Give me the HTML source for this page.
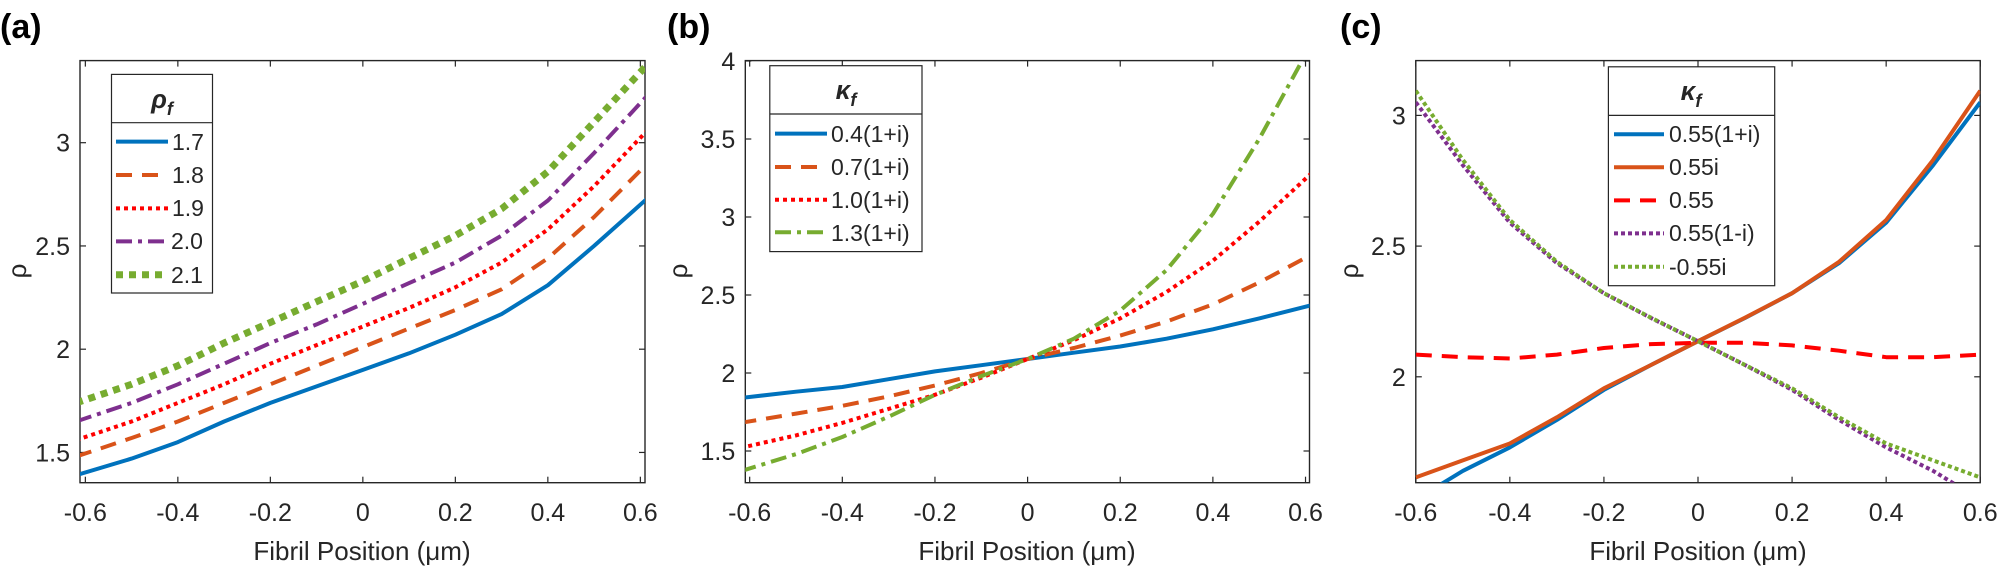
<!DOCTYPE html>
<html><head><meta charset="utf-8"><style>
html,body{margin:0;padding:0;background:#fff;width:2001px;height:569px;overflow:hidden}
svg{display:block}
text{font-family:"Liberation Sans",Arial,sans-serif;fill:#262626}
</style></head><body>
<svg id="s" width="2001" height="569" xmlns="http://www.w3.org/2000/svg">
<defs>
<clipPath id="ca"><rect x="80" y="60.6" width="565" height="422"/></clipPath>
<clipPath id="cb"><rect x="745.3" y="60.6" width="564.2" height="422"/></clipPath>
<clipPath id="cc"><rect x="1415.8" y="60.6" width="564.4" height="422"/></clipPath>
</defs>
<text x="0" y="38" font-size="34" font-weight="bold" style="fill:#000">(a)</text>
<text x="667" y="38" font-size="34" font-weight="bold" style="fill:#000">(b)</text>
<text x="1340" y="38" font-size="34" font-weight="bold" style="fill:#000">(c)</text>
<g id="axes"></g>
<text x="362" y="560" font-size="26" text-anchor="middle">Fibril Position (μm)</text>
<text x="1027" y="560" font-size="26" text-anchor="middle">Fibril Position (μm)</text>
<text x="1698" y="560" font-size="26" text-anchor="middle">Fibril Position (μm)</text>
<text transform="translate(26,271) rotate(-90)" font-size="26" text-anchor="middle">ρ</text>
<text transform="translate(687,271) rotate(-90)" font-size="26" text-anchor="middle">ρ</text>
<text transform="translate(1358,271) rotate(-90)" font-size="26" text-anchor="middle">ρ</text>
<g stroke="#262626" stroke-width="1.2" fill="#fff">
<rect x="111.5" y="74.4" width="101" height="218.6"/><line x1="111.5" y1="122.7" x2="212.5" y2="122.7"/>
<rect x="769.8" y="65.7" width="152.2" height="185.9"/><line x1="769.8" y1="114" x2="922" y2="114"/>
<rect x="1608.4" y="66.8" width="166.3" height="218.9"/><line x1="1608.4" y1="115.4" x2="1774.7" y2="115.4"/>
</g>
<text x="162" y="108" font-size="26" font-weight="bold" font-style="italic" text-anchor="middle">ρ<tspan font-size="18" dy="7">f</tspan></text>
<text x="846" y="99" font-size="26" font-weight="bold" font-style="italic" text-anchor="middle">κ<tspan font-size="18" dy="7">f</tspan></text>
<text x="1691" y="100" font-size="26" font-weight="bold" font-style="italic" text-anchor="middle">κ<tspan font-size="18" dy="7">f</tspan></text>
<g font-size="23">
<text x="172" y="150">1.7</text><text x="172" y="183">1.8</text><text x="172" y="216">1.9</text><text x="171" y="249">2.0</text><text x="171" y="283">2.1</text>
<text x="831" y="142">0.4(1+i)</text><text x="831" y="175">0.7(1+i)</text><text x="831" y="208">1.0(1+i)</text><text x="831" y="241">1.3(1+i)</text>
<text x="1669" y="142">0.55(1+i)</text><text x="1669" y="175">0.55i</text><text x="1669" y="208">0.55</text><text x="1669" y="241">0.55(1-i)</text><text x="1669" y="275">-0.55i</text>
</g>
<g id="series"></g>
</svg>
<script>
var NS="http://www.w3.org/2000/svg";
function el(p,t,a){var e=document.createElementNS(NS,t);for(var k in a)e.setAttribute(k,a[k]);p.appendChild(e);return e;}
var ax=document.getElementById('axes'),se=document.getElementById('series');
var P={
a:{L:80,R:645,T:60.6,B:482.7,xc:362.85,xs:462.5,yf:function(v){return 142.7+(3-v)*206.5},yt:[1.5,2,2.5,3],yl:['1.5','2','2.5','3'],clip:'ca'},
b:{L:745.3,R:1309.5,T:60.6,B:482.7,xc:1027.6,xs:463.2,yf:function(v){return 61+(4-v)*156},yt:[1.5,2,2.5,3,3.5,4],yl:['1.5','2','2.5','3','3.5','4'],clip:'cb'},
c:{L:1415.8,R:1980.2,T:60.6,B:482.7,xc:1698,xs:470.4,yf:function(v){return 115.4+(3-v)*261.4},yt:[2,2.5,3],yl:['2','2.5','3'],clip:'cc'}
};
var xt=[-0.6,-0.4,-0.2,0,0.2,0.4,0.6],xl=['-0.6','-0.4','-0.2','0','0.2','0.4','0.6'];
for(var k in P){var p=P[k];
 xt.forEach(function(v,i){var x=p.xc+v*p.xs;
  el(ax,'line',{x1:x,y1:p.B,x2:x,y2:p.B-6,stroke:'#262626','stroke-width':1.2});
  el(ax,'line',{x1:x,y1:p.T,x2:x,y2:p.T+6,stroke:'#262626','stroke-width':1.2});
  var t=el(ax,'text',{x:x,y:521,'font-size':25,'text-anchor':'middle'});t.textContent=xl[i];});
 p.yt.forEach(function(v,i){var y=p.yf(v);
  el(ax,'line',{x1:p.L,y1:y,x2:p.L+6,y2:y,stroke:'#262626','stroke-width':1.2});
  el(ax,'line',{x1:p.R,y1:y,x2:p.R-6,y2:y,stroke:'#262626','stroke-width':1.2});
  var t=el(ax,'text',{x:p.L-10,y:y+9,'font-size':25,'text-anchor':'end'});t.textContent=p.yl[i];});
 el(ax,'rect',{x:p.L,y:p.T,width:p.R-p.L,height:p.B-p.T,fill:'none',stroke:'#262626','stroke-width':1.4});
}
var BL='#0072BD',OR='#D95319',RD='#FF0000',PU='#7E2F8E',GR='#77AC30';
var ST={solid:{w:4,d:''},dash:{w:4,d:'16 10'},dot:{w:4,d:'4 4'},dashdot:{w:4,d:'16 6 4 6'},gdot:{w:7,d:'7 6'},cdot:{w:4,d:'4 3'}};
function draw(k,xs,ys,col,st){var p=P[k];var pts=xs.map(function(x,i){return (p.xc+x*p.xs).toFixed(1)+','+p.yf(ys[i]).toFixed(1)}).join(' ');
 var g=el(se,'g',{'clip-path':'url(#'+p.clip+')'});
 var a={points:pts,fill:'none',stroke:col,'stroke-width':ST[st].w,'stroke-linejoin':'round'};if(ST[st].d)a['stroke-dasharray']=ST[st].d;el(g,'polyline',a);}
function leg(x1,x2,y,col,st){var a={x1:x1,x2:x2,y1:y,y2:y,stroke:col,'stroke-width':ST[st].w};if(ST[st].d)a['stroke-dasharray']=ST[st].d;el(se,'line',a);}
var X=[-0.62,-0.5,-0.4,-0.3,-0.2,-0.1,0,0.1,0.2,0.3,0.4,0.5,0.62];
draw('a',X,[1.39,1.47,1.55,1.65,1.74,1.82,1.90,1.98,2.07,2.17,2.31,2.50,2.74],BL,'solid');
draw('a',X,[1.48,1.57,1.65,1.74,1.83,1.92,2.01,2.10,2.19,2.29,2.44,2.64,2.91],OR,'dash');
draw('a',X,[1.56,1.65,1.74,1.83,1.93,2.02,2.11,2.20,2.30,2.42,2.58,2.79,3.07],RD,'dot');
draw('a',X,[1.65,1.74,1.83,1.93,2.03,2.12,2.22,2.32,2.42,2.55,2.72,2.95,3.24],PU,'dashdot');
draw('a',X,[1.74,1.83,1.92,2.03,2.13,2.23,2.33,2.44,2.55,2.68,2.86,3.10,3.39],GR,'gdot');
draw('b',X,[1.84,1.88,1.91,1.96,2.01,2.05,2.09,2.13,2.17,2.22,2.28,2.35,2.44],BL,'solid');
draw('b',X,[1.68,1.74,1.79,1.85,1.92,2.00,2.09,2.16,2.24,2.33,2.44,2.58,2.77],OR,'dash');
draw('b',X,[1.52,1.60,1.68,1.77,1.86,1.97,2.09,2.21,2.35,2.52,2.72,2.97,3.30],RD,'dot');
draw('b',X,[1.37,1.48,1.59,1.72,1.86,1.98,2.09,2.22,2.40,2.66,3.02,3.50,4.15],GR,'dashdot');
var XC=[-0.6,-0.5,-0.4,-0.3,-0.2,-0.1,0,0.1,0.2,0.3,0.4,0.5,0.6];
var bl=[1.53,1.64,1.73,1.835,1.95,2.045,2.136,2.225,2.32,2.435,2.59,2.81,3.05];
var orr=[1.615,1.68,1.745,1.845,1.956,2.045,2.136,2.226,2.32,2.44,2.60,2.83,3.094];
draw('c',XC,bl,BL,'solid');
draw('c',XC,orr,OR,'solid');
draw('c',XC,[2.085,2.075,2.07,2.085,2.11,2.125,2.13,2.13,2.12,2.10,2.075,2.075,2.085],RD,'dash');
draw('c',XC,bl.slice().reverse(),PU,'cdot');
draw('c',XC,orr.slice().reverse(),GR,'cdot');
leg(116,168,141.6,BL,'solid');leg(116,168,175,OR,'dash');leg(116,168,208.4,RD,'dot');leg(116,168,241.4,PU,'dashdot');leg(116,168,274.8,GR,'gdot');
leg(775,827,133.6,BL,'solid');leg(775,827,167,OR,'dash');leg(775,827,199.7,RD,'dot');leg(775,827,232.3,GR,'dashdot');
leg(1614,1664,134.3,BL,'solid');leg(1614,1664,167.3,OR,'solid');leg(1614,1664,200.4,RD,'dash');leg(1614,1664,233.4,PU,'cdot');leg(1614,1664,266.8,GR,'cdot');
</script>
</body></html>
